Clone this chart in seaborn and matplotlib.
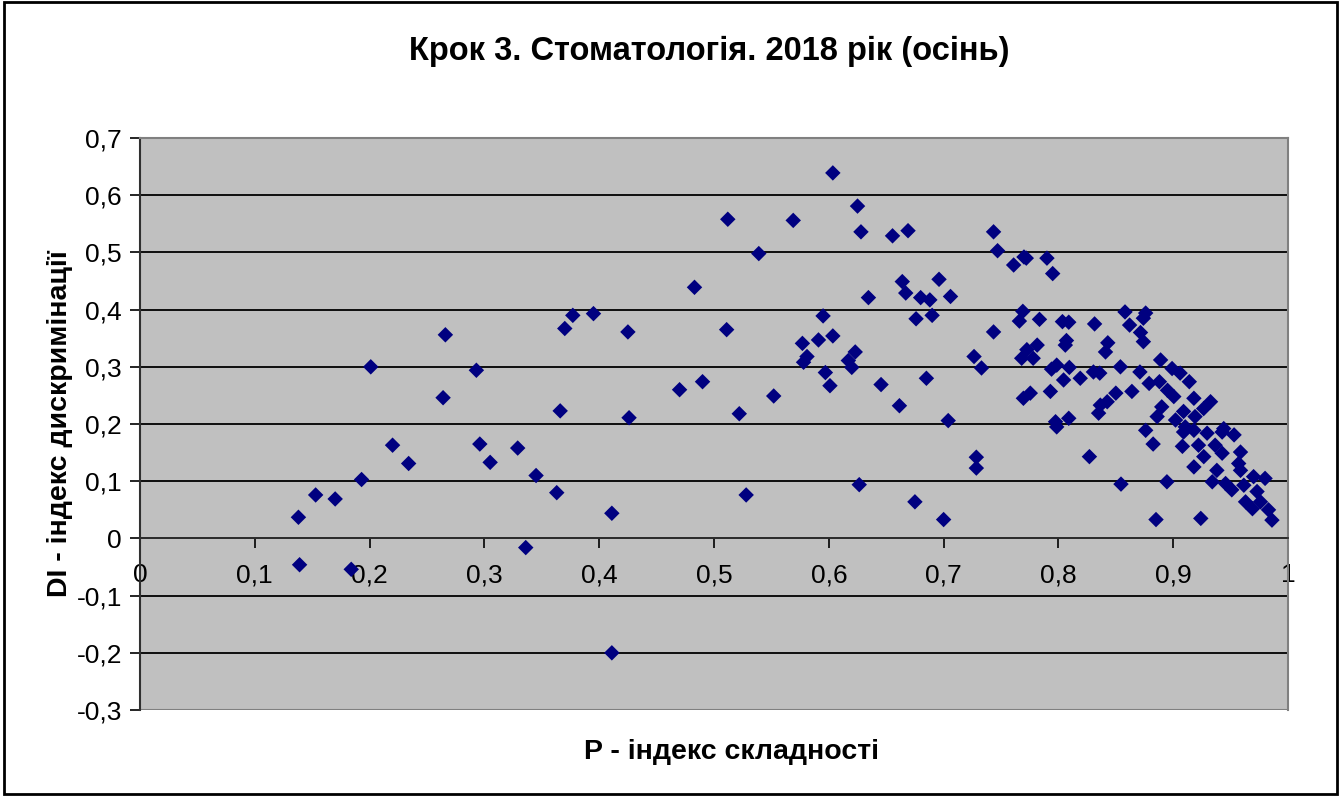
import seaborn as sns
import pandas as pd
import matplotlib.pyplot as plt
from matplotlib.ticker import FuncFormatter, MultipleLocator
from matplotlib.patches import Rectangle

# P - difficulty index, DI - discrimination index
p_left = [0.138, 0.139, 0.153, 0.170, 0.184, 0.193, 0.201, 0.220, 0.234, 0.264,
          0.266, 0.293, 0.296, 0.305, 0.329, 0.336, 0.345, 0.363, 0.366, 0.370,
          0.377, 0.395, 0.411, 0.411, 0.425, 0.426]
di_left = [0.037, -0.046, 0.076, 0.069, -0.054, 0.103, 0.300, 0.163, 0.131, 0.246,
           0.356, 0.294, 0.165, 0.133, 0.158, -0.016, 0.110, 0.080, 0.223, 0.367,
           0.390, 0.393, 0.044, -0.200, 0.361, 0.211]

p_mid = [0.470, 0.483, 0.490, 0.511, 0.512, 0.522, 0.528, 0.539, 0.552, 0.569,
         0.577, 0.581, 0.578, 0.591, 0.595, 0.597, 0.601, 0.6035, 0.6035, 0.617,
         0.620, 0.623, 0.625, 0.6265, 0.628, 0.6345, 0.6455, 0.6555, 0.6615, 0.664,
         0.667, 0.669, 0.675, 0.676, 0.680, 0.685, 0.688, 0.690, 0.696, 0.700,
         0.704, 0.706]
di_mid = [0.260, 0.439, 0.274, 0.365, 0.558, 0.218, 0.076, 0.498, 0.249, 0.556,
          0.341, 0.318, 0.308, 0.347, 0.389, 0.290, 0.267, 0.354, 0.639, 0.311,
          0.299, 0.326, 0.581, 0.094, 0.536, 0.421, 0.269, 0.529, 0.232, 0.449,
          0.429, 0.538, 0.064, 0.384, 0.421, 0.280, 0.417, 0.390, 0.453, 0.033,
          0.206, 0.423]

p_right = [0.7265, 0.7285, 0.7285, 0.733, 0.7435, 0.7435, 0.747, 0.761, 0.766, 0.769,
           0.768, 0.770, 0.772, 0.7725, 0.7695, 0.7755, 0.778, 0.7815, 0.7835, 0.790,
           0.793, 0.795, 0.794, 0.7985, 0.7975, 0.7985, 0.8035, 0.8045, 0.806, 0.807,
           0.809, 0.8095, 0.809, 0.819, 0.827, 0.8305, 0.8315, 0.836, 0.8365, 0.835,
           0.841, 0.843, 0.8425, 0.850, 0.854, 0.8545, 0.858, 0.862, 0.864, 0.871,
           0.8715, 0.874, 0.874, 0.876, 0.876, 0.879, 0.8825, 0.885, 0.886, 0.888,
           0.889, 0.890, 0.8945, 0.895, 0.899, 0.9005, 0.902, 0.906, 0.908, 0.909,
           0.909, 0.9105, 0.914, 0.918, 0.918, 0.919, 0.918, 0.924, 0.9265, 0.9295,
           0.9325, 0.944, 0.953, 0.9426, 0.922, 0.9365, 0.9426, 0.9266, 0.9586, 0.957,
           0.938, 0.9586, 0.970, 0.934, 0.9456, 0.951, 0.9615, 0.973, 0.963, 0.976,
           0.969, 0.983, 0.986, 0.980]
di_right = [0.318, 0.142, 0.123, 0.298, 0.536, 0.361, 0.503, 0.478, 0.380, 0.397,
            0.315, 0.492, 0.490, 0.330, 0.245, 0.254, 0.315, 0.338, 0.383, 0.490,
            0.257, 0.463, 0.296, 0.303, 0.204, 0.195, 0.379, 0.277, 0.338, 0.346,
            0.378, 0.299, 0.210, 0.280, 0.143, 0.291, 0.375, 0.289, 0.233, 0.219,
            0.326, 0.342, 0.239, 0.254, 0.300, 0.095, 0.396, 0.373, 0.257, 0.291,
            0.360, 0.385, 0.344, 0.394, 0.189, 0.271, 0.165, 0.033, 0.213, 0.274,
            0.312, 0.230, 0.099, 0.259, 0.297, 0.248, 0.207, 0.289, 0.161, 0.186,
            0.222, 0.195, 0.274, 0.245, 0.125, 0.213, 0.189, 0.035, 0.227, 0.184,
            0.239, 0.192, 0.181, 0.186, 0.163, 0.163, 0.149, 0.143, 0.151, 0.131,
            0.119, 0.119, 0.108, 0.099, 0.096, 0.085, 0.093, 0.082, 0.064, 0.064,
            0.052, 0.050, 0.032, 0.105]

df = pd.DataFrame({'P': p_left + p_mid + p_right,
                   'DI': di_left + di_mid + di_right})

plt.rcParams['font.family'] = ['Liberation Sans', 'DejaVu Sans']

fig = plt.figure(figsize=(13.41, 7.96), dpi=100)
ax = fig.add_axes([0.1044, 0.108, 0.8561, 0.7186])
ax.set_facecolor('#C0C0C0')

sns.scatterplot(data=df, x='P', y='DI', marker='D', s=62, color='#000080',
                edgecolor='none', linewidth=0, ax=ax, zorder=3)

ax.set_xlim(0, 1)
ax.set_ylim(-0.3, 0.7)
ax.xaxis.set_major_locator(MultipleLocator(0.1))
ax.yaxis.set_major_locator(MultipleLocator(0.1))
fmt = FuncFormatter(lambda v, pos: ('%g' % round(v, 2)).replace('.', ','))
ax.xaxis.set_major_formatter(fmt)
ax.yaxis.set_major_formatter(fmt)

ax.yaxis.grid(True, color='black', linewidth=1.3)
ax.xaxis.grid(False)
ax.set_axisbelow(True)

# x axis crosses at 0 like in Excel
ax.spines['bottom'].set_position(('data', 0))
ax.spines['bottom'].set_color('#303030')
ax.spines['bottom'].set_linewidth(1.3)
ax.spines['left'].set_color('#303030')
ax.spines['left'].set_linewidth(1.5)
ax.spines['top'].set_color('#808080')
ax.spines['right'].set_color('#808080')
ax.spines['top'].set_linewidth(1.5)
ax.spines['right'].set_linewidth(1.5)
ax.axhline(-0.3, color='#808080', linewidth=1.5, zorder=1)

ax.tick_params(axis='both', direction='out', length=7, width=1.2, color='black',
               labelsize=19)
ax.tick_params(axis='x', pad=11)
ax.tick_params(axis='y', pad=6)

ax.set_xlabel('P - індекс складності', fontsize=20.5, fontweight='bold')
ax.set_ylabel('DI - індекс дискримінації', fontsize=20.5, fontweight='bold')
ax.xaxis.set_label_coords(0.515, -0.073)
ax.xaxis.label.set_va('center')
ax.yaxis.set_label_coords(-0.07, 0.5)
ax.yaxis.label.set_va('center')

fig.suptitle('Крок 3. Стоматологія. 2018 рік (осінь)', x=0.529, y=0.935,
             va='center', fontsize=23.5, fontweight='bold')

fig.patches.append(Rectangle((0.003, 0.003), 0.994, 0.994, transform=fig.transFigure,
                             fill=False, edgecolor='black', linewidth=2))

fig.savefig('out.png', dpi=100)
